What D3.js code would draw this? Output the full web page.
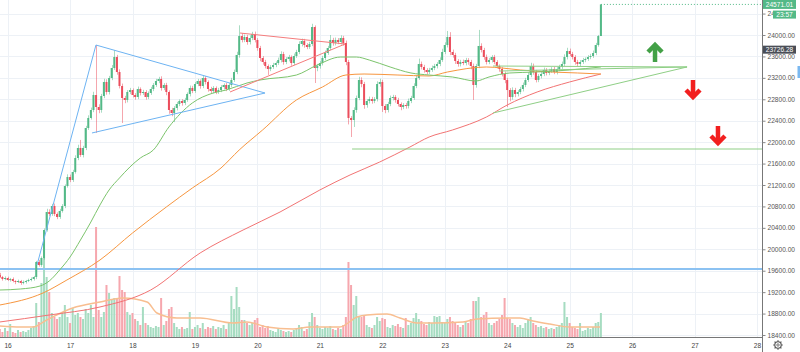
<!DOCTYPE html>
<html><head><meta charset="utf-8">
<script src="https://cdn.jsdelivr.net/npm/d3@7"></script>
<style>body{margin:0;background:#fff}svg{display:block}</style>
</head><body>
<svg id="c" width="800" height="352"></svg>
<script>
// ---------- DATA ----------
const startDay = 15.875;          // first hourly candle (15th, 21:00)
const firstOpen = 19520;
const closes = [
19483,19445,19464,19427,19445,19408,19389,19408,19371,19389,
19408,19427,19445,19483,19763,19707,19837,20360,20696,20659,
20808,20659,20603,20715,20808,21181,21349,21293,21443,21704,
21891,21760,21891,22264,22451,22600,22880,22656,22600,22861,
23123,22936,23197,23384,23589,23309,23048,22824,22787,22936,
22973,22880,22843,22992,22917,22936,22843,22917,22992,23067,
23141,23179,23011,23067,22936,22600,22544,22637,22712,22768,
22731,22787,22899,23011,22955,23085,23141,23048,23197,23123,
22992,22955,23011,22936,22973,23029,23067,22992,23067,23160,
23309,23627,23981,23907,23963,23869,23944,24019,23907,23757,
23571,23496,23421,23365,23403,23440,23477,23533,23645,23496,
23552,23589,23477,23608,23683,23832,23888,23813,23776,23832,
24149,23384,23421,23477,23571,23664,23757,23907,23851,23907,
23869,23944,23851,23496,22451,22413,22600,22824,23160,23085,
22693,22768,22805,22768,22805,23085,23123,22675,22600,22712,
22824,22843,22787,22712,22656,22693,22675,22768,22824,23048,
23197,23459,23403,23347,23309,23347,23384,23421,23459,23533,
23683,23813,23963,23683,23627,23515,23459,23496,23477,23533,
23496,23421,23067,23421,23795,23720,23589,23496,23533,23589,
23496,23421,23365,23272,23160,22973,22843,22973,22899,22936,
22992,23067,23160,23253,23421,23309,23160,23235,23272,23347,
23291,23328,23365,23309,23365,23403,23459,23589,23701,23645,
23589,23496,23459,23496,23533,23552,23589,23608,23664,23813,
23981,24571.01];
const upWick = [
40,20,30,25,20,30,15,25,20,30, 20,25,30,20,20,40,30,30,60,50,
40,45,30,40,35,30,50,45,40,50, 60,150,40,40,50,45,60,933,50,40,
60,50,40,55,130,40,50,45,40,35, 40,30,35,45,30,40,35,30,40,35,
40,40,50,35,40,30,40,35,40,30, 35,40,30,45,40,35,40,30,45,35,
30,40,35,30,40,35,30,40,35,40, 45,60,200,50,45,40,50,40,45,35,
40,35,40,30,35,40,30,45,50,40, 35,40,30,45,40,50,45,40,35,40,
60,30,40,35,40,45,40,93,40,45, 35,50,40,45,40,35,50,45,60,50,
40,35,45,40,35,50,60,40,35,40, 45,40,35,40,30,35,40,45,40,50,
50,100,45,40,35,40,45,40,35,50, 60,50,112,90,45,40,35,40,45,40,
35,40,45,40,300,50,40,45,40,35, 40,35,30,40,45,40,35,50,40,35,
40,45,40,50,60,45,40,35,40,45, 35,40,35,40,35,40,45,50,60,45,
40,35,40,35,40,30,35,40,45,40, 20,0];
const dnWick = [
20,30,25,20,30,25,40,20,35,25, 30,20,25,30,40,30,35,30,30,40,
35,40,40,35,30,40,30,40,35,30, 40,35,45,40,35,30,40,485,60,50,
40,50,45,40,35,50,45,467,60,45, 40,45,50,40,45,35,50,40,35,40,
35,40,50,40,60,70,60,170,45,40, 50,40,35,45,40,35,40,50,40,45,
50,40,45,40,35,40,45,40,35,40, 35,40,50,45,40,50,45,40,45,50,
60,50,45,110,40,35,40,35,45,50, 40,45,50,40,35,40,45,50,40,35,
40,280,60,50,45,40,35,40,50,45, 40,45,50,60,120,317,130,50,40,60,
70,50,45,50,40,45,50,112,60,45, 40,45,50,45,60,40,50,45,40,35,
40,35,45,50,45,40,35,40,45,40, 35,40,45,60,50,55,50,45,40,45,
50,60,280,50,40,45,50,45,40,45, 40,45,50,45,60,317,80,50,60,45,
40,45,40,35,40,50,45,40,45,40, 45,40,35,40,45,40,35,40,45,40,
45,50,45,40,35,40,35,40,35,40, 30,0];
const volumes = [
80,50,90,60,130,50,40,70,50,60, 50,70,90,110,340,150,540,1000,600,450,
240,200,180,200,250,320,200,140,290,220, 240,200,180,280,240,320,200,1100,270,200,
250,520,440,370,390,390,610,470,450,250, 220,240,180,160,120,300,140,120,100,90,
110,100,390,120,160,280,300,140,100,80, 100,80,90,250,80,100,120,90,140,80,
100,90,110,80,100,90,120,80,140,410, 280,500,300,170,170,140,120,140,170,190,
100,120,90,110,70,60,50,80,70,60, 50,60,50,70,80,120,100,60,80,150,
240,200,120,90,80,100,90,110,80,70, 90,80,120,200,750,520,320,410,200,200,
220,120,100,90,120,200,160,190,180,100, 90,120,110,130,100,90,190,120,140,190,
240,180,160,130,120,150,140,210,200,210, 150,140,180,200,160,140,120,100,120,150,
140,180,360,360,400,200,220,250,140,120, 140,160,180,220,390,190,180,140,120,100,
120,90,140,180,200,140,120,100,110,90, 100,80,90,80,100,120,140,350,200,140,
100,90,80,140,60,70,90,80,100,140, 150,240];

// moving averages: [candle index, value]
const maGreen = [[0,19240],[8,19259],[15.5,19315],[19,19408],[23,19613],[27,19856],[31,20173],[35,20509],[38.5,20827],[42,21107],[46,21331],[50,21536],[54,21704],[59,21853],[65,22283],[74,22731],[82,22917],[87,22973],[95,23104],[100,23160],[114,23253],[122,23440],[131,23589],[137,23589],[142,23533],[150,23403],[158,23291],[165,23253],[174,23216],[183,23141],[188,23216],[196,23291],[206,23309],[219,23347],[231,23403]];
const maOrange = [[0,18960],[16.6,19184],[25.8,19427],[38.5,19800],[51,20304],[64,20789],[74,21144],[85,21517],[92,21853],[101,22227],[114,22787],[124,23029],[133,23253],[140,23272],[153,23253],[165,23235],[172,23309],[187,23403],[193,23384],[200,23347],[212,23309],[222,23291],[231,23272]];
const maRed = [[0,18643],[19,18773],[38.5,18923],[58,19240],[77,19931],[93.5,20360],[107.7,20696],[123,21107],[134.6,21387],[146,21629],[157.6,21909],[165,22096],[174,22227],[187,22469],[195,22693],[206.5,22936],[219,23123],[231,23272]];
const volMA = [[0,110],[8,100],[12.8,100],[18,170],[28,290],[38.5,350],[47.3,390],[56.6,350],[60.4,240],[68,190],[77,190],[89.6,140],[95,150],[102.7,100],[112.7,80],[119.2,100],[130.7,100],[137.3,200],[141.1,220],[148.8,230],[153.8,190],[160.3,140],[166.5,140],[178,150],[183.4,180],[194.9,190],[199.9,190],[204.9,160],[211.4,130],[219,100],[230.7,100]];

// drawn lines: [[day, price],[day, price]]
const blueLines = [[[16.471,19707],[17.415,23813]],[[17.415,23813],[20.122,22917]],[[17.351,22171],[20.122,22917]]];
const blueLevel = 19630;
const redLines = [[[19.722,24037],[21.404,23832]],[[19.561,22936],[21.404,23832]]];
const greenLines = [[[23.773,23421],[26.880,23403]],[[23.885,23328],[26.880,23403]],[[23.773,22544],[26.880,23403]],[[21.516,21872],[28.2,21872]]];
const upArrows = [[26.367,23851]];
const downArrows = [[26.975,22805],[27.375,21947]];

const priceTicks = d3.range(18400, 24401, 400);
const dayTicks = d3.range(16, 29);
const lastPrice = 24571.01, markPrice = 23726.28, countdown = "23:57";

// ---------- CHART ----------
const W = 762, H = 337;
const svg = d3.select("#c");
const x = d3.scaleLinear().domain([16, 28]).range([7.6, 757]);
const y = d3.scaleLinear().domain([18400, 24000]).range([335, 35]);
const yv = d3.scaleLinear().domain([0, 1000]).range([H, 237]);
const tOf = i => startDay + i / 24;

const defs = svg.append("defs");
defs.append("clipPath").attr("id","clip")
  .append("rect").attr("x",0).attr("y",0).attr("width",W).attr("height",H);

const grid = svg.append("g").attr("stroke","#edf1f6").attr("stroke-width",1);
dayTicks.forEach(d => grid.append("line").attr("x1",Math.round(x(d))+0.5).attr("x2",Math.round(x(d))+0.5).attr("y1",0).attr("y2",H));
priceTicks.forEach(p => grid.append("line").attr("x1",0).attr("x2",W).attr("y1",Math.round(y(p))+0.5).attr("y2",Math.round(y(p))+0.5));

const plot = svg.append("g").attr("clip-path","url(#clip)");

const candles = closes.map((c,i) => {
  const o = i === 0 ? firstOpen : closes[i-1];
  return {t: tOf(i), o, c, h: Math.max(o,c) + upWick[i], l: Math.min(o,c) - dnWick[i], v: volumes[i]};
});
const UP = "#53b987", DN = "#eb4d5c";

// volume
plot.append("g").selectAll("rect").data(candles).join("rect")
  .attr("x", d => x(d.t) - 1).attr("width", 2)
  .attr("y", d => yv(d.v)).attr("height", d => H - yv(d.v))
  .attr("fill", d => d.c >= d.o ? "#a6dcc1" : "#f6a7ae");

const lineGen = (xs, ys) => d3.line().x(xs).y(ys).curve(d3.curveMonotoneX);
plot.append("path").datum(volMA).attr("fill","none").attr("stroke","#f8be90").attr("stroke-width",1.5)
  .attr("d", lineGen(d => x(tOf(d[0])), d => yv(d[1])));

// horizontal blue level
plot.append("line").attr("x1",0).attr("x2",W).attr("y1",y(blueLevel)).attr("y2",y(blueLevel))
  .attr("stroke","#8cc2f2").attr("stroke-width",2);

// wicks & bodies
plot.append("g").selectAll("line").data(candles).join("line")
  .attr("x1", d => Math.round(x(d.t)) + 0.5).attr("x2", d => Math.round(x(d.t)) + 0.5)
  .attr("y1", d => y(d.h)).attr("y2", d => y(d.l))
  .attr("stroke", d => d.c >= d.o ? UP : DN).attr("stroke-opacity",0.5).attr("stroke-width",1);
plot.append("g").selectAll("rect").data(candles).join("rect")
  .attr("x", d => x(d.t) - 1).attr("width", 2)
  .attr("y", d => y(Math.max(d.o,d.c)))
  .attr("height", d => Math.max(1, Math.abs(y(d.o) - y(d.c))))
  .attr("fill", d => d.c >= d.o ? UP : DN);

// moving averages
[[maRed,"#f27373"],[maOrange,"#f7963f"],[maGreen,"#7cc46c"]].forEach(([arr,col]) => {
  plot.append("path").datum(arr).attr("fill","none").attr("stroke",col).attr("stroke-width",1)
    .attr("d", lineGen(d => x(tOf(d[0])), d => y(d[1])));
});

// trend lines
const drawLines = (arr, col) => arr.forEach(l => plot.append("line")
  .attr("x1", x(l[0][0])).attr("y1", y(l[0][1])).attr("x2", x(l[1][0])).attr("y2", y(l[1][1]))
  .attr("stroke", col).attr("stroke-width", 1));
drawLines(blueLines, "#6db3f2");
drawLines(redLines, "#f47c7c");
drawLines(greenLines, "#8fcf86");

// last price dotted line
plot.append("line").attr("x1", x(tOf(closes.length-1))).attr("x2", W)
  .attr("y1", y(lastPrice)).attr("y2", y(lastPrice))
  .attr("stroke", UP).attr("stroke-dasharray","1,2");

// arrows
upArrows.forEach(([d,p]) => {
  const cx = x(d), ty = y(p);
  const g = plot.append("g").attr("stroke","#43a047").attr("fill","none").attr("stroke-width",4.5);
  g.append("polyline").attr("points", `${cx-7},${ty+9} ${cx},${ty+2} ${cx+7},${ty+9}`).attr("stroke-linejoin","miter");
  g.append("line").attr("x1",cx).attr("x2",cx).attr("y1",ty+3).attr("y2",ty+19);
});
downArrows.forEach(([d,p]) => {
  const cx = x(d), ty = y(p);
  const g = plot.append("g").attr("stroke","#f21f1f").attr("fill","none").attr("stroke-width",4.5);
  g.append("polyline").attr("points", `${cx-7},${ty-9} ${cx},${ty-2} ${cx+7},${ty-9}`).attr("stroke-linejoin","miter");
  g.append("line").attr("x1",cx).attr("x2",cx).attr("y1",ty-3).attr("y2",ty-19);
});

// ---------- AXES ----------
const font = "Liberation Sans, Arial, sans-serif";
svg.append("line").attr("x1",0).attr("x2",W).attr("y1",H+0.5).attr("y2",H+0.5).attr("stroke","#777");
svg.append("line").attr("x1",W+0.5).attr("x2",W+0.5).attr("y1",0).attr("y2",352).attr("stroke","#777");

const yAxis = svg.append("g").attr("transform",`translate(${W+0.5},0)`)
  .call(d3.axisRight(y).tickValues(priceTicks).tickFormat(d3.format(".2f")).tickSize(3).tickPadding(2));
yAxis.select(".domain").remove();
yAxis.selectAll("line").attr("stroke","#888");
yAxis.selectAll("text").attr("font-family",font).attr("font-size",6.6).attr("fill","#555");

const xAxis = svg.append("g").attr("transform",`translate(0,${H})`)
  .call(d3.axisBottom(x).tickValues(dayTicks).tickFormat(d3.format("d")).tickSize(0).tickPadding(6));
xAxis.select(".domain").remove();
xAxis.selectAll("text").attr("font-family",font).attr("font-size",6.6).attr("fill","#444");

// price tags
const tag = (p, bg, txt, x0, w, h) => {
  const cy = y(p);
  svg.append("rect").attr("x",x0).attr("y",cy-h/2).attr("width",w).attr("height",h).attr("fill",bg);
  svg.append("text").attr("x",x0+w/2).attr("y",cy).attr("dy","0.35em").attr("text-anchor","middle")
    .attr("font-family",font).attr("font-size",6.6).attr("fill","#fff").text(txt);
};
tag(lastPrice, UP, d3.format(".2f")(lastPrice), 763, 33, 9);
tag(lastPrice - 190, UP, countdown, 773, 23, 8);
tag(markPrice, "#4a4e57", d3.format(".2f")(markPrice), 763, 33, 8);
svg.append("rect").attr("x",797.5).attr("y",66).attr("width",2.5).attr("height",12).attr("fill","#7ab8f0");

// gear icon
const gear = svg.append("g").attr("transform","translate(778,345)").attr("stroke","#555").attr("fill","none");
gear.append("circle").attr("r",3.2).attr("stroke-width",1.1);
d3.range(8).forEach(k => {
  const a = k * Math.PI / 4;
  gear.append("line").attr("x1",3.2*Math.cos(a)).attr("y1",3.2*Math.sin(a)).attr("x2",4.8*Math.cos(a)).attr("y2",4.8*Math.sin(a)).attr("stroke-width",1.2);
});
gear.append("circle").attr("r",1.2).attr("stroke-width",0.8);
</script>
</body></html>
